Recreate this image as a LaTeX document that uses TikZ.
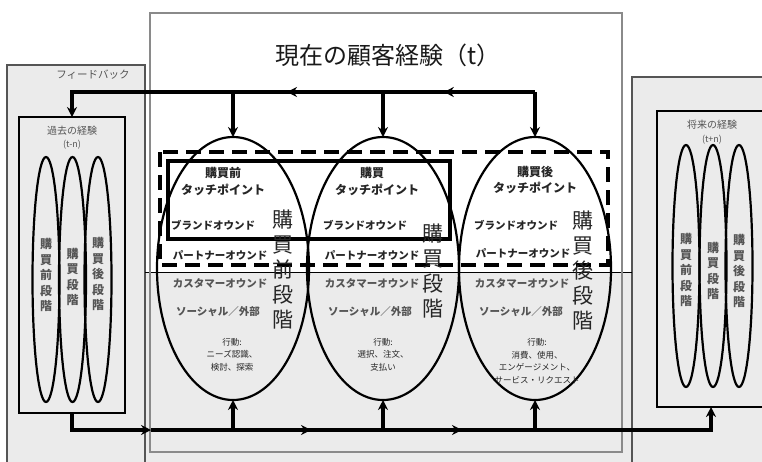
\documentclass[tikz,border=0pt]{standalone}
\usepackage{fontspec}
\setmainfont{Noto Sans CJK JP}
\usetikzlibrary{shapes.geometric,arrows.meta,decorations.markings}
\definecolor{bg}{HTML}{EBEBEB}
\definecolor{framegray}{HTML}{8A8A8A}
\definecolor{boxgray}{HTML}{555555}
\definecolor{txt}{HTML}{262626}
\definecolor{ltxt}{HTML}{555555}
\tikzset{
  bigell/.style={ellipse, draw, line width=2.2pt, minimum width=152pt, minimum height=263pt, inner sep=0pt, outer sep=0pt},
  smell/.style={ellipse, draw, line width=2.2pt, minimum width=27pt, inner sep=0pt, outer sep=0pt},
  histbox/.style={draw, line width=2.2pt, inner sep=0pt, outer sep=0pt},
  thickline/.style={line width=3.4pt},
  arrline/.style={line width=3.4pt, -{Stealth[length=10pt,width=10pt]}},
  midarr/.style={postaction={decorate,decoration={markings,mark=at position #1 with {\arrow{Stealth[length=10pt,width=10pt]}}}}},
  lbl/.style={inner sep=0pt, text=txt, font=\bfseries\fontsize{10.5}{12}\selectfont},
  head/.style={inner sep=0pt, text=txt, font=\bfseries\fontsize{12}{14}\selectfont},
  act/.style={inner sep=0pt, align=center, text=txt, font=\fontsize{8.5}{12.5}\selectfont},
  bigv/.style={inner sep=0pt, align=center, text=txt, font=\fontsize{21}{25}\selectfont},
  smv/.style={inner sep=0pt, align=center, text=ltxt, font=\bfseries\fontsize{12}{15.5}\selectfont},
  small/.style={inner sep=0pt, text=ltxt, font=\fontsize{10.5}{12}\selectfont}
}
\begin{document}
\begin{tikzpicture}[x=1pt,y=-1pt]
\useasboundingbox (0,0) rectangle (762,461);
\fill[white] (0,0) rectangle (762,461);
% background regions
\draw[fill=bg, draw=boxgray, line width=1.3pt] (7,65) rectangle (145,470);
\draw[fill=bg, draw=boxgray, line width=1.3pt] (632,77) rectangle (775,470);
\fill[bg] (145.6,272) rectangle (631.4,470);
\draw[line width=1pt] (145,272) -- (632,272);
\draw[framegray, line width=2.2pt] (150,13) rectangle (622,452);
% title
\node[inner sep=0pt, font=\fontsize{24}{28}\selectfont, text=black!90] (title) at (388,55) {現在の顧客経験（t）};
% feedback label
\node[small] (fb) at (93,75) {フィードバック};
% past box
\node[histbox, minimum width=106pt, minimum height=296pt] (past) at (72,265) {};
\node[small, font=\fontsize{10}{12}\selectfont] (pastl) at (72,131) {過去の経験};
\node[small, font=\fontsize{9}{11}\selectfont] (pastt) at (72,145) {(t-n)};
\node[smell, minimum height=245pt] (p1) at (46,279.5) {};
\node[smell, minimum height=245pt] (p2) at (72.5,279.5) {};
\node[smell, minimum height=245pt] (p3) at (98,279.5) {};
\node[smv] at (46,275) {購\\買\\前\\段\\階};
\node[smv] at (72.5,277) {購\\買\\段\\階};
\node[smv] at (98,274) {購\\買\\後\\段\\階};
% future box
\node[histbox, minimum width=108pt, minimum height=296pt] (future) at (711,259) {};
\node[small, font=\fontsize{10}{12}\selectfont] (futl) at (712,125) {将来の経験};
\node[small, font=\fontsize{9}{11}\selectfont] (futt) at (712,140) {(t+n)};
\node[smell, minimum height=242pt] (f1) at (686,266) {};
\node[smell, minimum height=242pt] (f2) at (713,266) {};
\node[smell, minimum height=242pt] (f3) at (739,266) {};
\node[smv] at (686,270) {購\\買\\前\\段\\階};
\node[smv] at (713,271) {購\\買\\段\\階};
\node[smv] at (739,271) {購\\買\\後\\段\\階};
% big ellipses
\node[bigell] (e1) at (233,268.5) {};
\node[bigell] (e2) at (383,268.5) {};
\node[bigell] (e3) at (535,268.5) {};
% touchpoint frames
\draw[line width=4pt, dash pattern=on 15pt off 8pt] (160,152) rectangle (608,265);
\draw[line width=4.5pt] (168,161) rectangle (450,239);
% ellipse 1 texts
\node[head] at (223,173) {購買前};
\node[head] at (223,190) {タッチポイント};
\node[lbl] at (213,225) {ブランドオウンド};
\node[lbl] at (220,255) {パートナーオウンド};
\node[lbl, text=ltxt] at (220,283) {カスタマーオウンド};
\node[lbl, text=ltxt] at (218,312) {ソーシャル／外部};
\node[act] at (232,354.5) {行動:\\ニーズ認識、\\検討、探索};
\node[bigv] at (283,270) {購\\買\\前\\段\\階};
% ellipse 2 texts
\node[head] at (372,173) {購買};
\node[head] at (377,190) {タッチポイント};
\node[lbl] at (365,225) {ブランドオウンド};
\node[lbl] at (372,255) {パートナーオウンド};
\node[lbl, text=ltxt] at (372,283) {カスタマーオウンド};
\node[lbl, text=ltxt] at (370,312) {ソーシャル／外部};
\node[act] at (383,354.5) {行動:\\選択、注文、\\支払い};
\node[bigv] at (433,271) {購\\買\\段\\階};
% ellipse 3 texts
\node[head] at (535,172) {購買後};
\node[head] at (535,188) {タッチポイント};
\node[lbl] at (516,225) {ブランドオウンド};
\node[lbl] at (523,253) {パートナーオウンド};
\node[lbl, text=ltxt] at (522,283) {カスタマーオウンド};
\node[lbl, text=ltxt] at (521,312) {ソーシャル／外部};
\node[act] at (537,361) {行動:\\消費、使用、\\エンゲージメント、\\サービス・リクエスト};
\node[bigv] at (583,271) {購\\買\\後\\段\\階};
% connector coordinates
\coordinate (t0) at (72,92);
\coordinate (t1) at (233,92);
\coordinate (t2) at (383,92);
\coordinate (t3) at (535,92);
\coordinate (b0) at (72,430);
\coordinate (bf) at (151,430);
\coordinate (b1) at (233,430);
\coordinate (b2) at (383,430);
\coordinate (b3) at (535,430);
\coordinate (b4) at (711,430);
% top feedback line
\draw[thickline, midarr=0.6] (t3) -- (t2);
\draw[thickline, midarr=0.64] (t2) -- (t1);
\draw[arrline] (t1) -- (t0) -- (past.north);
\draw[arrline] (t1) -- (e1.north);
\draw[arrline] (t2) -- (e2.north);
\draw[arrline] (t3) -- (e3.north);
% bottom line
\draw[arrline] (past.south) -- (b0) -- (bf);
\draw[thickline] (bf) -- (b1);
\draw[thickline, midarr=0.52] (b1) -- (b2);
\draw[thickline, midarr=0.52] (b2) -- (b3);
\draw[arrline] (b3) -- (b4) -- (future.south);
\draw[arrline] (b1) -- (e1.south);
\draw[arrline] (b2) -- (e2.south);
\draw[arrline] (b3) -- (e3.south);
\end{tikzpicture}
\end{document}
